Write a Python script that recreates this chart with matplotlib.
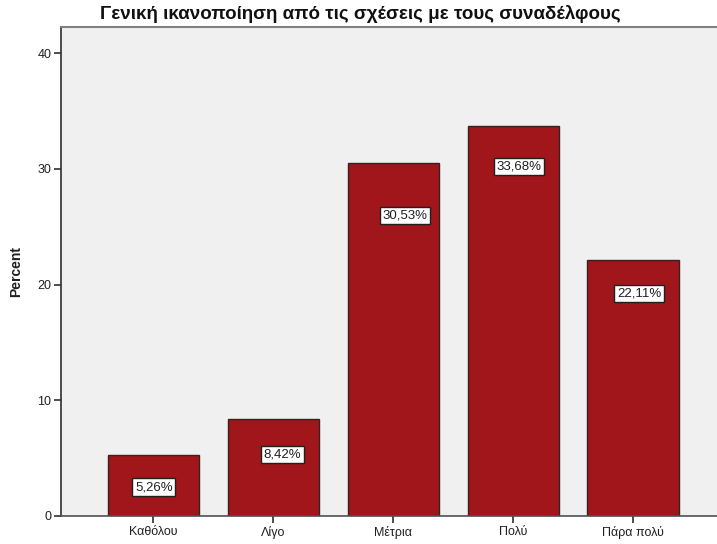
import matplotlib
matplotlib.use("Agg")
import matplotlib.pyplot as plt
import numpy as np

plt.rcParams['font.family'] = ['Liberation Sans', 'DejaVu Sans']

# Response categories and their percentages
categories = ["Καθόλου", "Λίγο", "Μέτρια", "Πολύ", "Πάρα πολύ"]
percent = [5.26, 8.42, 30.53, 33.68, 22.11]
value_labels = ["5,26%", "8,42%", "30,53%", "33,68%", "22,11%"]

# Placement of the value boxes relative to each bar top (x in category units, y in percent)
label_dx = [0.004, 0.075, 0.10, 0.05, 0.05]
label_drop = [2.76, 3.12, 4.57, 3.5, 2.87]

title = "Γενική ικανοποίηση από τις σχέσεις με τους συναδέλφους"

fig = plt.figure(figsize=(7.17, 5.44), dpi=100)
ax = fig.add_axes([61 / 717, 28 / 544, 1 - 61 / 717, 489 / 544])
ax.set_facecolor("#F0F0F0")

x = np.arange(len(categories))
ax.bar(x, percent, width=0.76, color="#A0161A", edgecolor="#3A2020", linewidth=1.0, zorder=2)

for xi, v, lab, dx, dy in zip(x, percent, value_labels, label_dx, label_drop):
    ax.text(xi + dx, v - dy, lab, ha="center", va="center", fontsize=9.5, color="#202020",
            bbox=dict(boxstyle="square,pad=0.2", facecolor="white", edgecolor="#202020", linewidth=1.0),
            zorder=3)

ax.set_xlim(-0.77, 4.70)
ax.set_ylim(0, 42.25)
ax.set_xticks(x)
ax.set_xticklabels(categories, fontsize=9, color="#202020")
ax.set_yticks([0, 10, 20, 30, 40])
ax.set_yticklabels(["0", "10", "20", "30", "40"], fontsize=9, color="#202020")
ax.tick_params(axis="both", direction="out", length=5, width=1.2, color="#303030", pad=2)

ax.spines["right"].set_visible(False)
ax.spines["top"].set_color("#808080")
ax.spines["top"].set_linewidth(1.5)
ax.spines["left"].set_color("#303030")
ax.spines["bottom"].set_color("#505050")
ax.spines["left"].set_linewidth(1.2)
ax.spines["bottom"].set_linewidth(1.2)

ax.set_ylabel("Percent", fontsize=10, fontweight="bold", color="#202020", labelpad=10)
fig.text(0.502, 0.974, title, ha="center", va="center", fontsize=13.5, fontweight="bold", color="#101010")

fig.savefig("out.png", dpi=100, facecolor="white")
